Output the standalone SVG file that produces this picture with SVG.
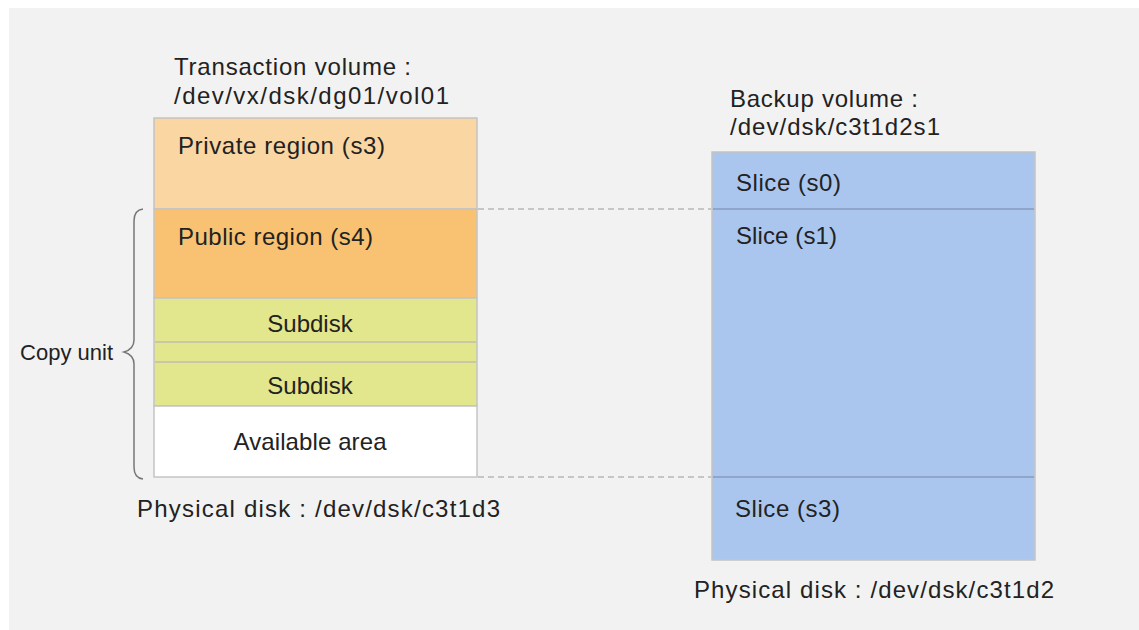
<svg xmlns="http://www.w3.org/2000/svg" width="1139" height="630" viewBox="0 0 1139 630">
<style>
text{font-family:"Liberation Sans",Arial,sans-serif;font-size:24px;fill:#222}
.c{text-anchor:middle}
.box{stroke:#c4c4c4;stroke-width:1.5}
.sep{stroke:#c8c8a8;stroke-width:2}
.bsep{stroke:#8fa6c8;stroke-width:2}
.dash{stroke:#b8b8b8;stroke-width:1.5;stroke-dasharray:6 4;fill:none}
</style>
<rect x="0" y="0" width="1139" height="630" fill="#ffffff"/>
<rect x="9" y="8" width="1130" height="622" fill="#f2f2f2"/>

<g id="transaction-volume">
<text x="174" y="75" textLength="237" lengthAdjust="spacing">Transaction volume :</text>
<text x="174" y="104" textLength="275" lengthAdjust="spacing">/dev/vx/dsk/dg01/vol01</text>
<g id="private-region">
<rect class="box" x="154" y="118" width="323" height="91" fill="#fad6a2"/>
<text x="178" y="154" textLength="207" lengthAdjust="spacing">Private region (s3)</text>
</g>
<g id="public-region">
<rect class="box" x="154" y="209" width="323" height="89" fill="#f8c272"/>
<text x="178" y="245" textLength="195" lengthAdjust="spacing">Public region (s4)</text>
</g>
<g id="subdisk1">
<rect x="154" y="298" width="323" height="108" fill="#e2e68c" class="box"/>
<text class="c" x="310" y="332">Subdisk</text>
</g>
<line class="sep" x1="155" y1="342" x2="476" y2="342"/>
<line class="sep" x1="155" y1="362" x2="476" y2="362"/>
<g id="subdisk2">
<text class="c" x="310" y="394">Subdisk</text>
</g>
<g id="available-area">
<rect class="box" x="154" y="406" width="323" height="71" fill="#ffffff"/>
<text class="c" x="310" y="450" textLength="153" lengthAdjust="spacing">Available area</text>
</g>
<text x="137" y="517" textLength="363" lengthAdjust="spacing">Physical disk : /dev/dsk/c3t1d3</text>
</g>

<g id="copy-unit">
<path d="M143,209 Q134,210 134,221 L134,340 Q134,349 124,352 Q134,355 134,364 L134,467 Q134,478 143,479" fill="none" stroke="#777" stroke-width="1.5"/>
<text x="20" y="360" textLength="93" lengthAdjust="spacing" style="font-size:22px">Copy unit</text>
</g>

<g id="backup-volume">
<text x="730" y="107" textLength="188" lengthAdjust="spacing">Backup volume :</text>
<text x="730" y="135" textLength="210" lengthAdjust="spacing">/dev/dsk/c3t1d2s1</text>
<rect class="box" x="712" y="152" width="323" height="408" fill="#aac6ee"/>
<line class="bsep" x1="713" y1="209" x2="1034" y2="209"/>
<line class="bsep" x1="713" y1="477" x2="1034" y2="477"/>
<g id="slice-s0"><text x="736" y="191" textLength="105" lengthAdjust="spacing">Slice (s0)</text></g>
<g id="slice-s1"><text x="736" y="244" textLength="101" lengthAdjust="spacing">Slice (s1)</text></g>
<g id="slice-s3"><text x="735" y="517" textLength="105" lengthAdjust="spacing">Slice (s3)</text></g>
<text x="694" y="598" textLength="360" lengthAdjust="spacing">Physical disk : /dev/dsk/c3t1d2</text>
</g>

<g id="connectors">
<line class="dash" x1="478" y1="209" x2="711" y2="209"/>
<line class="dash" x1="478" y1="477" x2="711" y2="477"/>
</g>
</svg>
